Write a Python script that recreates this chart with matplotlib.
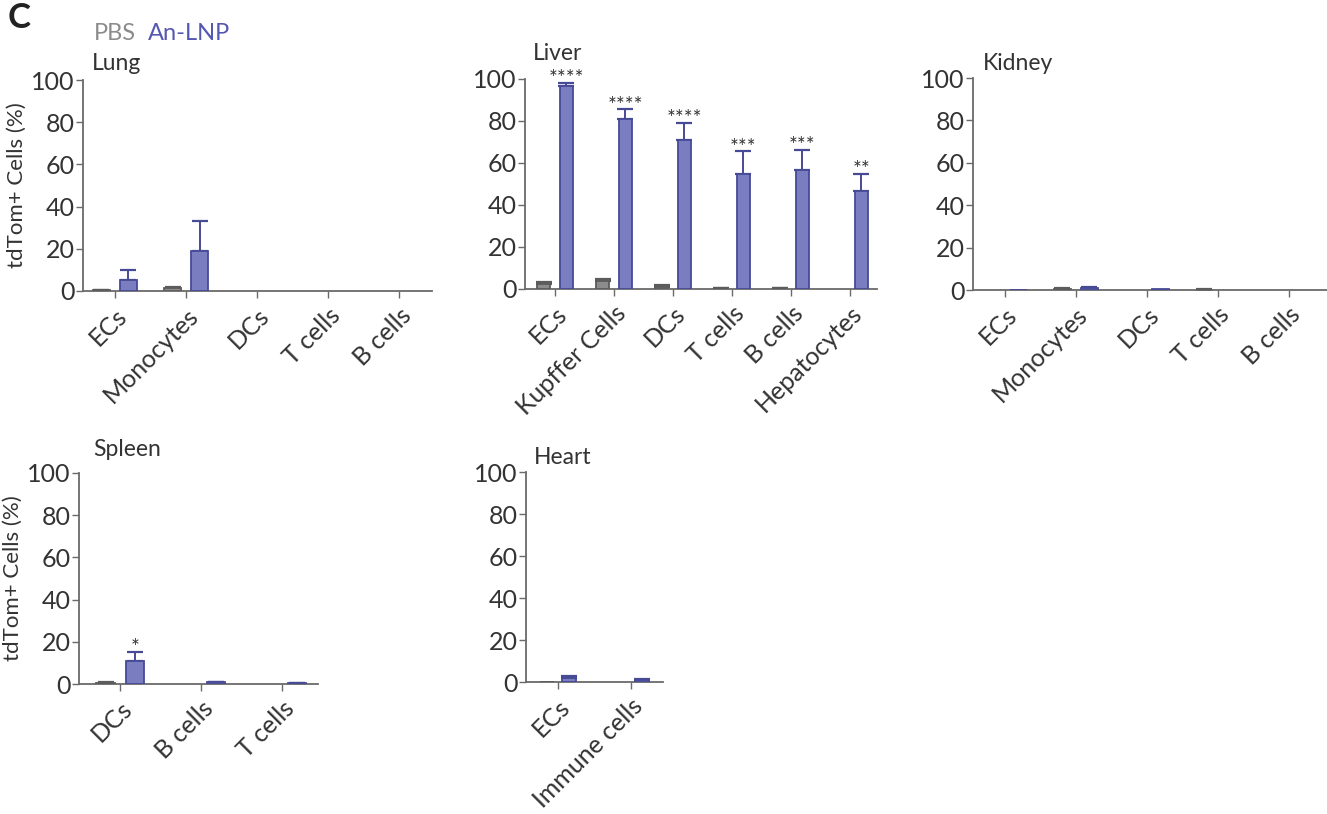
import matplotlib.pyplot as plt
import numpy as np

plt.rcParams['font.family'] = ['Lato', 'DejaVu Sans']

# ---- data ----
lung_cats = ['ECs', 'Monocytes', 'DCs', 'T cells', 'B cells']
lung_pbs = [0.5, 1.5, 0, 0, 0]
lung_pbs_err = [0.2, 0.3, 0, 0, 0]
lung_lnp = [5, 19, 0, 0, 0]
lung_lnp_err = [5, 14, 0, 0, 0]

liver_cats = ['ECs', 'Kupffer Cells', 'DCs', 'T cells', 'B cells', 'Hepatocytes']
liver_pbs = [2.2, 3.6, 1.0, 0.5, 0.5, 0]
liver_pbs_err = [1.3, 1.3, 0.7, 0.2, 0.2, 0]
liver_lnp = [96.8, 81, 71, 55, 56.8, 46.5]
liver_lnp_err = [1.2, 4.5, 8, 10.5, 9.5, 8.5]
liver_stars = ['****', '****', '****', '***', '***', '**']

kidney_cats = ['ECs', 'Monocytes', 'DCs', 'T cells', 'B cells']
kidney_pbs = [0, 0.6, 0, 0.2, 0]
kidney_pbs_err = [0, 0.2, 0, 0.1, 0]
kidney_lnp = [0.1, 0.9, 0.3, 0, 0]
kidney_lnp_err = [0, 0.7, 0, 0, 0]

spleen_cats = ['DCs', 'B cells', 'T cells']
spleen_pbs = [0.6, 0, 0]
spleen_pbs_err = [0.2, 0, 0]
spleen_lnp = [11, 0.8, 0.4]
spleen_lnp_err = [4.4, 0.2, 0.1]
spleen_stars = ['*', '', '']

heart_cats = ['ECs', 'Immune cells']
heart_pbs = [0.1, 0]
heart_pbs_err = [0, 0]
heart_lnp = [1.9, 1.0]
heart_lnp_err = [1.0, 0.4]

PBS_FC, PBS_EC = '#8c8c8c', '#5c5c5c'
LNP_FC, LNP_EC = '#7a7dbf', '#474a95'
TXT = '#333333'
SPINE = '#6a6a6a'

W, H = 1327, 814
fig = plt.figure(figsize=(W / 100, H / 100), dpi=100)


def add_ax(left, top, right, bottom):
    return fig.add_axes([left / W, 1 - bottom / H, (right - left) / W, (bottom - top) / H])


def panel(rect, xlim, cats, pbs, pbs_err, lnp, lnp_err, width, off, stars=None, ylabel=False):
    ax = add_ax(*rect)
    x = np.arange(len(cats))
    for xs, vals, errs, fc, ec in [(x - off, pbs, pbs_err, PBS_FC, PBS_EC),
                                   (x + off, lnp, lnp_err, LNP_FC, LNP_EC)]:
        vals = np.asarray(vals, float)
        errs = np.asarray(errs, float)
        keep = vals > 0
        ax.bar(xs[keep], vals[keep], width=width, color=fc, edgecolor=ec,
               linewidth=1.3, zorder=3)
        ek = errs > 0
        ax.errorbar(xs[ek], vals[ek], yerr=[np.zeros(ek.sum()), errs[ek]], fmt='none',
                    ecolor=ec, elinewidth=1.4, capsize=6, capthick=1.6, zorder=2)
    if stars:
        for xi, v, e, s in zip(x + off, lnp, lnp_err, stars):
            if s:
                ax.text(xi, v + e - 1.0, s, ha='center', va='baseline', fontsize=15,
                        color=TXT, clip_on=False)
    ax.set_xlim(*xlim)
    ax.set_ylim(0, 100)
    ax.set_yticks([0, 20, 40, 60, 80, 100])
    ax.set_xticks(x)
    ax.set_xticklabels(cats, rotation=45, ha='right', va='top', rotation_mode='anchor',
                       fontsize=18, color=TXT)
    ax.tick_params(axis='y', labelsize=18, labelcolor=TXT, color=SPINE, length=5, width=1, pad=1)
    ax.tick_params(axis='x', color=SPINE, length=5, width=1, pad=4)
    for s in ['top', 'right']:
        ax.spines[s].set_visible(False)
    for s in ['left', 'bottom']:
        ax.spines[s].set_color(SPINE)
        ax.spines[s].set_linewidth(1.3)
    if ylabel:
        ax.set_ylabel('tdTom+ Cells (%)', fontsize=16, color=TXT, labelpad=3)
    return ax


panel((83, 80, 432, 291), (-0.45, 4.46), lung_cats, lung_pbs, lung_pbs_err,
      lung_lnp, lung_lnp_err, 0.24, 0.19, ylabel=True)
panel((525, 79, 877, 289), (-0.51, 5.46), liver_cats, liver_pbs, liver_pbs_err,
      liver_lnp, liver_lnp_err, 0.22, 0.19, stars=liver_stars)
panel((973, 78, 1327, 290), (-0.45, 4.54), kidney_cats, kidney_pbs, kidney_pbs_err,
      kidney_lnp, kidney_lnp_err, 0.24, 0.19)
panel((79, 473, 318, 684), (-0.51, 2.44), spleen_cats, spleen_pbs, spleen_pbs_err,
      spleen_lnp, spleen_lnp_err, 0.23, 0.18, stars=spleen_stars, ylabel=True)
panel((526, 472, 663, 682), (-0.44, 1.44), heart_cats, heart_pbs, heart_pbs_err,
      heart_lnp, heart_lnp_err, 0.2, 0.15)

# panel titles
for label, px, py in [('Lung', 92, 63), ('Liver', 533, 53), ('Kidney', 983, 63),
                      ('Spleen', 93, 450), ('Heart', 534, 457)]:
    fig.text(px / W, 1 - py / H, label, fontsize=16.5, color=TXT, ha='left', va='center')

# panel letter and legend
fig.text(8 / W, 1 - 18 / H, 'C', fontsize=25, fontweight='bold', color='#222222',
         ha='left', va='center')
fig.text(94 / W, 1 - 34 / H, 'PBS', fontsize=17, color='#8c8c8c', ha='left', va='center')
fig.text(148 / W, 1 - 34 / H, 'An-LNP', fontsize=17, color='#5558b0', ha='left', va='center')

fig.savefig('out.png', dpi=100)
